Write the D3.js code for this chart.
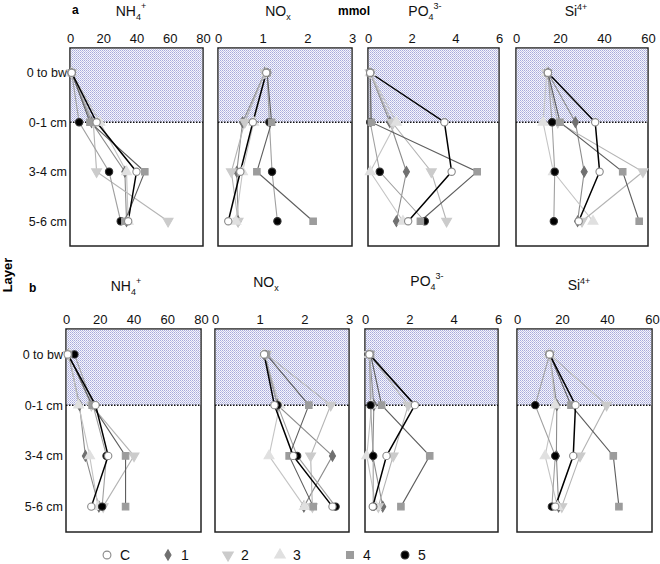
<!DOCTYPE html>
<html>
<head>
<meta charset="utf-8">
<script src="https://cdn.jsdelivr.net/npm/d3@7"></script>
<style>
  body { margin: 0; background: #fff; }
  svg { font-family: "Liberation Sans", Arial, sans-serif; }
</style>
</head>
<body>
<svg id="chart" width="660" height="564"></svg>
<script>
// depth layers and series
var layers = ["0 to bw", "0-1 cm", "3-4 cm", "5-6 cm"];
var seriesNames = ["C", "1", "2", "3", "4", "5"];

// values per panel, one row per series (C,1,2,3,4,5), one value per layer
var nh4A = [[1, 16, 40, 35], [1, 13, 33, 34], [1, 14, 16, 59], [1, 18, 34, 35], [1, 12, 45, 33], [1, 5.5, 23.5, 30.5]];
var noxA = [[1.08, 0.78, 0.5, 0.23], [1.05, 0.55, 0.42, 0.45], [1.05, 0.6, 0.3, 0.45], [1.08, 0.8, 0.55, 0.4], [1.1, 1.2, 0.87, 2.13], [1.1, 1.15, 1.21, 1.33]];
var po4A = [[0.1, 3.5, 3.83, 1.84], [0.1, 1.0, 1.76, 1.3], [0.1, 1.1, 2.9, 3.6], [0.1, 1.3, 0.1, 1.6], [0.1, 0.15, 5.0, 2.4], [0.1, 0.1, 0.54, 2.6]];
var siA = [[14.5, 36, 38, 28.5], [14.5, 27, 31, 28], [14, 19, 57.7, 30], [14, 12.3, 17, 35], [14.5, 20, 48.5, 56], [14.5, 16.4, 17.6, 17.2]];

var nh4B = [[1, 17.5, 25, 15], [1.5, 8, 11.5, 19.5], [1.5, 15, 40.3, 22], [2, 7.5, 14, 19], [1.5, 15.5, 35.3, 35.3], [5, 16, 24, 21.4]];
var noxB = [[1.1, 1.33, 1.75, 2.63], [1.1, 1.4, 2.63, 1.99], [1.15, 2.59, 2.14, 2.18], [1.1, 1.45, 1.21, 2.0], [1.15, 2.1, 1.66, 2.2], [1.12, 1.4, 1.84, 2.7]];
var po4B = [[0.2, 2.25, 0.97, 0.35], [0.2, 0.4, 0.35, 0.8], [0.2, 1.95, 1.27, 0.6], [0.2, 0.3, 0.08, 0.5], [0.25, 0.75, 2.92, 1.62], [0.2, 0.25, 0.37, 0.37]];
var siB = [[14.5, 26, 25, 17], [14.5, 17.7, 17.5, 18.5], [14.5, 39.8, 28, 19.9], [14.5, 17, 12.5, 18], [14.5, 24, 42.8, 45.3], [14.5, 8.1, 17, 15.5]];

var nh4Ticks = [0, 20, 40, 60, 80];
var noxTicks = [0, 1, 2, 3];
var po4Ticks = [0, 2, 4, 6];
var siTicks = [0, 20, 40, 60];

// marker and line styling per series
var markerFill = ["#fff", "#707070", "#cbcbcb", "#e0e0e0", "#9c9c9c", "#000"];
var markerStroke = ["#8a8a8a", "#707070", "#cbcbcb", "#e0e0e0", "#9c9c9c", "#333"];
var lineColor = ["#000", "#8c8c8c", "#b4b4b4", "#c4c4c4", "#5e5e5e", "#a0a0a0"];
var symbols = [d3.symbolCircle, d3.symbolDiamond, d3.symbolTriangle, d3.symbolTriangle, d3.symbolSquare, d3.symbolCircle];
var rotate = [0, 0, 180, 0, 0, 0];

var svg = d3.select("#chart");

// dotted fill for the water column
var pat = svg.append("defs").append("pattern")
  .attr("id", "dots").attr("width", 2).attr("height", 2)
  .attr("patternUnits", "userSpaceOnUse");
pat.append("rect").attr("width", 2).attr("height", 2).attr("fill", "#f6f6fc");
pat.append("rect").attr("width", 1).attr("height", 1).attr("fill", "#a7aadb");
pat.append("rect").attr("x", 1).attr("y", 1).attr("width", 1).attr("height", 1).attr("fill", "#c0c2e6");

var rows = [
  { top: 48, bottom: 246, xs: [[70, 203], [218, 352], [368, 499], [516, 648]],
    data: [nh4A, noxA, po4A, siA] },
  { top: 329, bottom: 532, xs: [[66, 201], [215, 349], [365, 498], [517, 652]],
    data: [nh4B, noxB, po4B, siB] }
];
var domains = [[0, 80], [0, 3], [0, 6], [0, 60]];
var ticks = [nh4Ticks, noxTicks, po4Ticks, siTicks];
var drawOrder = [1, 2, 3, 5, 4, 0];

rows.forEach(function (row) {
  var y = d3.scalePoint().domain(layers).range([row.top, row.bottom]).padding(0.5);

  row.xs.forEach(function (xr, p) {
    var x = d3.scaleLinear().domain(domains[p]).range(xr);
    var g = svg.append("g");

    g.append("rect")
      .attr("x", xr[0]).attr("y", row.top)
      .attr("width", xr[1] - xr[0]).attr("height", row.bottom - row.top)
      .attr("fill", "none").attr("stroke", "#222").attr("stroke-width", 1.5);

    g.append("rect")
      .attr("x", xr[0] + 0.75).attr("y", row.top + 0.75)
      .attr("width", xr[1] - xr[0] - 1.5).attr("height", y("0-1 cm") - row.top - 0.75)
      .attr("fill", "url(#dots)");

    g.append("line")
      .attr("x1", xr[0]).attr("x2", xr[1])
      .attr("y1", y("0-1 cm")).attr("y2", y("0-1 cm"))
      .attr("stroke", "#111").attr("stroke-width", 1.5)
      .attr("stroke-dasharray", "1.5,1.5");

    var ax = g.append("g").attr("transform", "translate(0," + (row.top - 3) + ")")
      .call(d3.axisTop(x).tickValues(ticks[p]).tickSize(0).tickPadding(2).tickFormat(d3.format("d")));
    ax.select(".domain").remove();
    ax.selectAll("text").attr("font-size", 13).attr("fill", "#111")
      .attr("font-family", "Liberation Sans, Arial, sans-serif");

    if (p === 0) {
      var ay = g.append("g").attr("transform", "translate(" + (xr[0] - 1) + ",0)")
        .call(d3.axisLeft(y).tickSize(0).tickPadding(2));
      ay.select(".domain").remove();
      ay.selectAll("text").attr("font-size", 12.5).attr("fill", "#111")
        .attr("font-family", "Liberation Sans, Arial, sans-serif");
    }

    var vals = row.data[p];
    var line = d3.line().x(function (d) { return x(d); }).y(function (d, i) { return y(layers[i]); });

    drawOrder.forEach(function (s) {
      g.append("path").datum(vals[s])
        .attr("d", line).attr("fill", "none")
        .attr("stroke", lineColor[s]).attr("stroke-width", s === 0 ? 1.5 : 1.1);
    });

    drawOrder.forEach(function (s) {
      g.selectAll(null).data(vals[s]).enter().append("path")
        .attr("d", d3.symbol().type(symbols[s]).size(s === 1 ? 32 : 42))
        .attr("transform", function (d, i) {
          return "translate(" + x(d) + "," + y(layers[i]) + ") rotate(" + rotate[s] + ")";
        })
        .attr("fill", markerFill[s])
        .attr("stroke", markerStroke[s]).attr("stroke-width", 1.1);
    });
  });
});

// panel titles
function title(x, yy, base, sub, sup) {
  var t = svg.append("text").attr("x", x).attr("y", yy).attr("text-anchor", "middle")
    .attr("font-size", 14).attr("fill", "#111");
  t.append("tspan").text(base);
  if (sub) t.append("tspan").attr("font-size", 9).attr("dy", 4).text(sub);
  if (sup) t.append("tspan").attr("font-size", 9).attr("dy", sub ? -11 : -6).text(sup);
}
title(131, 16, "NH", "4", "+");
title(278, 16, "NO", "x", null);
title(425, 16, "PO", "4", "3-");
title(576, 16, "Si", null, "4+");
title(126, 291, "NH", "4", "+");
title(266, 287, "NO", "x", null);
title(427, 286, "PO", "4", "3-");
title(579, 290, "Si", null, "4+");

svg.append("text").attr("x", 72).attr("y", 14).attr("font-size", 12).attr("font-weight", "bold").text("a");
svg.append("text").attr("x", 29).attr("y", 292).attr("font-size", 12).attr("font-weight", "bold").text("b");
svg.append("text").attr("x", 338).attr("y", 15).attr("font-size", 12).attr("font-weight", "bold").text("mmol");
svg.append("text").attr("transform", "translate(12,275) rotate(-90)")
  .attr("text-anchor", "middle").attr("font-size", 13).attr("font-weight", "bold").text("Layer");

// legend
var legendX = [107, 168, 228, 280, 350, 405];
var leg = svg.append("g").selectAll("g").data(seriesNames).enter().append("g")
  .attr("transform", function (d, i) { return "translate(" + legendX[i] + ",555)"; });
leg.append("path")
  .attr("d", function (d, i) { return d3.symbol().type(symbols[i]).size(i === 1 ? 32 : 48)(); })
  .attr("transform", function (d, i) { return "rotate(" + rotate[i] + ")"; })
  .attr("fill", function (d, i) { return markerFill[i]; })
  .attr("stroke", function (d, i) { return markerStroke[i]; }).attr("stroke-width", 1.1);
leg.append("text").attr("x", 13).attr("y", 5).attr("font-size", 14).attr("fill", "#111")
  .text(function (d) { return d; });
</script>
</body>
</html>
